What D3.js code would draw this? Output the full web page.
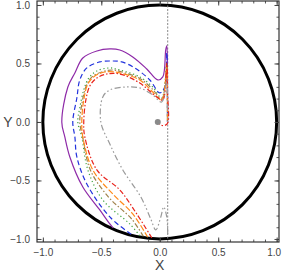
<!DOCTYPE html>
<html>
<head>
<meta charset="utf-8">
<script src="https://cdn.jsdelivr.net/npm/d3@7"></script>
<style>
  body { margin: 0; background: #fff; }
  svg { display: block; font-family: "Liberation Sans", Arial, sans-serif; }
</style>
</head>
<body>
<div id="chart"></div>
<script>
// curves as [x, y]
const purple = [[-0.40,-0.905],[-0.427,-0.872],[-0.513,-0.752],[-0.658,-0.556],[-0.769,-0.299],[-0.812,-0.128],[-0.838,0.0],[-0.786,0.299],[-0.726,0.419],[-0.658,0.547],[-0.538,0.607],[-0.427,0.624],[-0.342,0.615],[-0.231,0.556],[-0.111,0.453],[-0.017,0.359],[0.026,0.385],[0.051,0.615],[0.06,0.65],[0.066,0.40],[0.067,0.0]];
const blue = [[-0.245,-0.96],[-0.427,-0.812],[-0.624,-0.530],[-0.709,-0.299],[-0.726,-0.128],[-0.744,0.0],[-0.709,0.205],[-0.684,0.359],[-0.624,0.462],[-0.513,0.513],[-0.402,0.521],[-0.325,0.513],[-0.214,0.462],[-0.085,0.359],[0.0,0.248],[0.043,0.299],[0.06,0.59],[0.065,0.35],[0.066,0.0]];
const green = [[-0.171,-0.972],[-0.256,-0.872],[-0.487,-0.667],[-0.615,-0.410],[-0.667,-0.128],[-0.701,0.0],[-0.684,0.12],[-0.65,0.274],[-0.607,0.376],[-0.538,0.436],[-0.427,0.462],[-0.342,0.444],[-0.171,0.385],[-0.06,0.299],[0.017,0.205],[0.06,0.504],[0.065,0.30],[0.066,0.0]];
const brown = [[-0.14,-0.978],[-0.24,-0.83],[-0.44,-0.64],[-0.594,-0.41],[-0.66,-0.128],[-0.684,0.0],[-0.667,0.15],[-0.632,0.30],[-0.58,0.385],[-0.49,0.43],[-0.40,0.444],[-0.342,0.432],[-0.171,0.372],[-0.06,0.278],[0.017,0.196],[0.06,0.49],[0.065,0.30],[0.066,0.0]];
const orange = [[-0.103,-0.985],[-0.231,-0.786],[-0.402,-0.615],[-0.573,-0.410],[-0.658,-0.128],[-0.667,0.0],[-0.65,0.188],[-0.615,0.325],[-0.556,0.393],[-0.47,0.427],[-0.385,0.427],[-0.342,0.419],[-0.171,0.359],[-0.06,0.256],[0.017,0.188],[0.06,0.47],[0.065,0.28],[0.066,0.0]];
const red = [[-0.068,-0.991],[-0.197,-0.786],[-0.342,-0.581],[-0.538,-0.410],[-0.641,-0.128],[-0.65,0.0],[-0.632,0.188],[-0.598,0.308],[-0.538,0.376],[-0.453,0.41],[-0.342,0.41],[-0.171,0.333],[-0.026,0.214],[0.026,0.188],[0.06,0.504],[0.066,0.25],[0.068,-0.008],[0.04,-0.03],[0.009,-0.026],[-0.017,0.0]];
const gray = [[0.068,-0.957],[0.06,-0.812],[0.034,-0.726],[0.009,-0.812],[-0.034,-0.923],[-0.077,-0.829],[-0.162,-0.641],[-0.316,-0.410],[-0.427,-0.188],[-0.504,0.0],[-0.487,0.214],[-0.427,0.274],[-0.282,0.299],[-0.171,0.291],[-0.06,0.231],[0.017,0.171],[0.06,0.359],[0.066,0.188],[0.067,0.0]];

const seriesNames = ["purple", "blue", "green", "brown", "orange", "red", "gray"];
const seriesData = [purple, blue, green, brown, orange, red, gray];
const colors = ["#8e2aa8", "#2233dd", "#3fa33f", "#a0824a", "#ff8a1a", "#e8231c", "#9a9a9a"];
const dashes = [null, "5,3", "1.2,2.6", "5,2,1.5,2", "6,2", "5,2,1.5,2", "6,2.5,1.5,2.5,1.5,2.5"];

const centerDot = [-0.017, 0.0];
const lineX = 0.068;
const tickLabels = [-1.0, -0.5, 0.0, 0.5, 1.0];

const width = 282;
const height = 273;
const margin = { top: 1, right: 3, bottom: 31, left: 37 };

const svg = d3.select("#chart")
  .append("svg")
  .attr("width", width)
  .attr("height", height);

const x = d3.scaleLinear()
  .domain([-1.05, 1.02])
  .range([margin.left, width - margin.right]);

const y = d3.scaleLinear()
  .domain([-1.026, 1.034])
  .range([height - margin.bottom, margin.top]);

const plot = svg.append("g");

// the unit circle
plot.append("circle")
  .attr("cx", x(0))
  .attr("cy", y(0))
  .attr("r", x(1) - x(0))
  .attr("fill", "none")
  .attr("stroke", "#000")
  .attr("stroke-width", 3);

// vertical dashed line
plot.append("line")
  .attr("x1", x(lineX)).attr("x2", x(lineX))
  .attr("y1", y.range()[0]).attr("y2", y.range()[1])
  .attr("stroke", "#888")
  .attr("stroke-width", 1)
  .attr("stroke-dasharray", "2,1.5");

const line = d3.line()
  .x(d => x(d[0]))
  .y(d => y(d[1]))
  .curve(d3.curveCatmullRom.alpha(0.5));

plot.selectAll("path.curve")
  .data(seriesData)
  .join("path")
    .attr("class", "curve")
    .attr("d", line)
    .attr("fill", "none")
    .attr("stroke", (d, i) => colors[i])
    .attr("stroke-width", 1.2)
    .attr("stroke-dasharray", (d, i) => dashes[i]);

plot.append("circle")
  .attr("cx", x(centerDot[0]))
  .attr("cy", y(centerDot[1]))
  .attr("r", 3)
  .attr("fill", "#8a8a8a");

// frame with inward ticks on all four sides
const fmt = d3.format(".1f");
const minor = d3.range(-10, 11).map(d => d / 10);

function frameAxis(g, axis, transform) {
  g.attr("transform", transform)
    .call(axis.tickValues(minor).tickSize(-2.5).tickFormat(""))
    .call(g => g.select(".domain").remove())
    .call(g => g.selectAll(".tick line").attr("stroke", "#555"));
}

svg.append("g").call(g => frameAxis(g, d3.axisBottom(x), `translate(0,${y.range()[0]})`));
svg.append("g").call(g => frameAxis(g, d3.axisTop(x), `translate(0,${y.range()[1]})`));
svg.append("g").call(g => frameAxis(g, d3.axisLeft(y), `translate(${x.range()[0]},0)`));
svg.append("g").call(g => frameAxis(g, d3.axisRight(y), `translate(${x.range()[1]},0)`));

function majorAxis(g, axis, transform) {
  g.attr("transform", transform)
    .call(axis.tickValues(tickLabels).tickSize(-4.5).tickPadding(7)
      .tickFormat(d => fmt(d).replace("-", "\u2212")))
    .call(g => g.select(".domain").remove())
    .call(g => g.selectAll(".tick line").attr("stroke", "#444"))
    .call(g => g.selectAll(".tick text").attr("fill", "#444").attr("font-size", "10px"));
}

svg.append("g").call(g => majorAxis(g, d3.axisBottom(x), `translate(0,${y.range()[0]})`))
  .selectAll(".tick text")
  .attr("dx", d => d === 1 ? -3 : 0);
svg.append("g").call(g => majorAxis(g, d3.axisLeft(y), `translate(${x.range()[0]},0)`));
svg.append("g").call(g => majorAxis(g, d3.axisTop(x), `translate(0,${y.range()[1]})`))
  .selectAll("text").remove();
svg.append("g").call(g => majorAxis(g, d3.axisRight(y), `translate(${x.range()[1]},0)`))
  .selectAll("text").remove();

svg.append("rect")
  .attr("x", x.range()[0])
  .attr("y", y.range()[1])
  .attr("width", x.range()[1] - x.range()[0])
  .attr("height", y.range()[0] - y.range()[1])
  .attr("fill", "none")
  .attr("stroke", "#333")
  .attr("stroke-width", 1.2);

svg.append("text")
  .attr("x", x(0))
  .attr("y", height - 3)
  .attr("text-anchor", "middle")
  .attr("font-size", "14px")
  .attr("fill", "#444")
  .text("X");

svg.append("text")
  .attr("x", 8)
  .attr("y", y(0) + 5)
  .attr("text-anchor", "middle")
  .attr("font-size", "14px")
  .attr("fill", "#444")
  .text("Y");
</script>
</body>
</html>
